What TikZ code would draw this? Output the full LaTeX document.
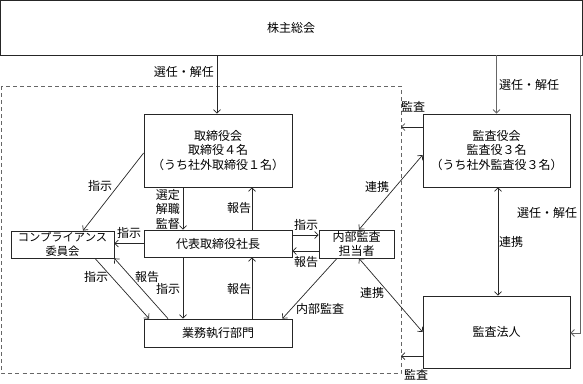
\documentclass[tikz,border=0pt]{standalone}
\usepackage{fontspec}
\newfontfamily\jp{Noto Sans CJK JP}
\usetikzlibrary{arrows.meta}
\tikzset{
  box/.style={draw=black!85, line width=0.8pt, rectangle, inner sep=0pt, align=center},
  lbl/.style={inner sep=0pt, align=center},
  arr/.style={draw=black!85, line width=0.7pt, -{Straight Barb[length=3.5pt,width=7pt]}},
  darr/.style={draw=black!85, line width=0.7pt, {Straight Barb[length=3.5pt,width=7pt]}-{Straight Barb[length=3.5pt,width=7pt]}},
  garr/.style={draw=black!60, line width=0.8pt, -{Straight Barb[length=3.5pt,width=7pt]}},
}
\begin{document}
\begin{tikzpicture}[x=1pt,y=-1pt,font=\jp\fontsize{12}{14.5}\selectfont]
\useasboundingbox (0,0) rectangle (583,383);
% dashed company boundary
\draw[draw=black!60, line width=0.8pt, dash pattern=on 4pt off 3pt] (1.5,86) rectangle (401,373);
% boxes
\node[box, minimum width=582pt, minimum height=55pt] (sh) at (291,27.5) {株主総会};
\node[box, minimum width=148pt, minimum height=73pt] (board) at (218,150.5) {取締役会\\取締役４名\\（うち社外取締役１名）};
\node[box, minimum width=147pt, minimum height=73pt] (aud) at (496.5,150.5) {監査役会\\監査役３名\\（うち社外監査役３名）};
\node[box, minimum width=103pt, minimum height=27pt, font=\jp\fontsize{11.3}{14}\selectfont] (comp) at (62.5,244.5) {コンプライアンス\\委員会};
\node[box, minimum width=148pt, minimum height=27pt] (pres) at (218,243.5) {代表取締役社長};
\node[box, minimum width=75pt, minimum height=28pt] (int) at (356.5,244) {内部監査\\担当者};
\node[box, minimum width=148pt, minimum height=28pt] (exec) at (218,333) {業務執行部門};
\node[box, minimum width=147pt, minimum height=72pt] (firm) at (496.5,332) {監査法人};
% coordinates
\coordinate (d1) at (401,127);
\coordinate (d2) at (401,356);
\coordinate (r1) at (580,55);
% shareholders -> board / auditors
\draw[arr] ([xshift=-1pt]sh.south -| board.north) -- ([xshift=-1pt]board.north);
\node[lbl, anchor=east] (l1) at (214,72) {選任・解任};
\draw[garr] (sh.south -| aud.north) -- (aud.north);
\node[lbl, anchor=west] (l2) at (499,85) {選任・解任};
\draw[garr] (r1) |- ([yshift=-1pt]firm.east);
\node[lbl] (l3) at (547,213) {選任・解任};
% audits
\draw[arr] (aud.west |- d1) -- (d1);
\node[lbl] (l4) at (413,107) {監査};
\draw[arr] (firm.west |- d2) -- (d2);
\node[lbl] (l5) at (416,375) {監査};
% board -> compliance
\draw[arr] ([yshift=-2.5pt]board.west) -- ([xshift=20.5pt]comp.north);
\node[lbl] (l6) at (100,186) {指示};
% board <-> president
\draw[arr] ([xshift=-35pt]board.south) -- ([xshift=-35pt]pres.north);
\node[lbl, anchor=east] (l7) at (180,209) {選定\\解職\\監督};
\draw[arr] ([xshift=34pt]pres.north) -- ([xshift=34pt]board.south);
\node[lbl] (l8) at (239,208) {報告};
% president -> compliance
\draw[arr] (pres.west) -- (pres.west -| comp.east);
\node[lbl] (l9) at (129,233) {指示};
% compliance <-> exec
\draw[arr] ([xshift=32.5pt]comp.south) -- ([xshift=-69pt]exec.north);
\node[lbl] (l10) at (96,277) {指示};
\draw[arr] ([xshift=-50pt]exec.north) -- (comp.south east);
\node[lbl] (l11) at (147,277) {報告};
% president <-> exec
\draw[arr] ([xshift=-35pt]pres.south) -- ([xshift=-35pt]exec.north);
\node[lbl] (l12) at (168,289) {指示};
\draw[arr] ([xshift=34pt]exec.north) -- ([xshift=34pt]pres.south);
\node[lbl] (l13) at (239,289) {報告};
% president <-> internal audit
\draw[arr] ([yshift=8.5pt]pres.east) -- ([yshift=8.5pt]pres.east -| int.west);
\node[lbl] (l14) at (306,225) {指示};
\draw[arr] ([yshift=-7pt]int.west) -- ([yshift=-7pt]int.west -| pres.east);
\node[lbl] (l15) at (306,262) {報告};
% internal audit -> exec
\draw[arr] ([xshift=-19.5pt]int.south) -- ([xshift=-10pt]exec.north east);
\node[lbl] (l16) at (320,309) {内部監査};
% cooperation
\draw[darr] ([yshift=-4.5pt]aud.west) -- ([xshift=2.5pt]int.north);
\node[lbl] (l17) at (377,187) {連携};
\draw[darr] ([xshift=2.5pt]int.south) -- (firm.west);
\node[lbl] (l18) at (372,293) {連携};
\draw[darr] ([xshift=1.5pt]aud.south) -- ([xshift=1.5pt]firm.north);
\node[lbl] (l19) at (511,242) {連携};
\end{tikzpicture}
\end{document}
